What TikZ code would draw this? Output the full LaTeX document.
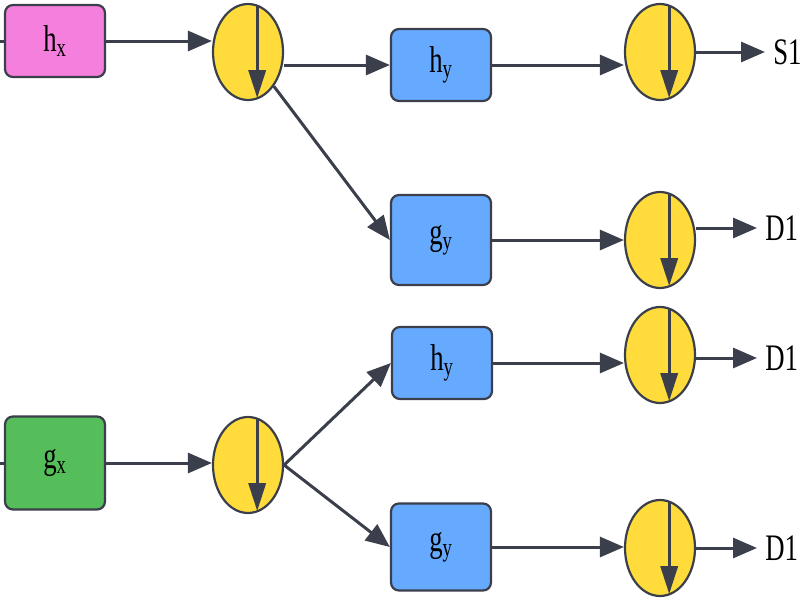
\documentclass[tikz,border=0pt]{standalone}
\usepackage{fontspec}
\setmainfont{Liberation Serif}
\usepackage{graphicx}
\usetikzlibrary{arrows.meta, shapes.geometric, positioning, calc}
\definecolor{boxpink}{HTML}{F57FDC}
\definecolor{boxgreen}{HTML}{55BE5A}
\definecolor{boxblue}{HTML}{66AAFF}
\definecolor{splityellow}{HTML}{FFDC3C}
\definecolor{linegray}{HTML}{3A3F4B}
\newcommand{\lbl}[1]{\scalebox{1}[1.4]{#1}}

\begin{document}
\begin{tikzpicture}[x=0.25mm, y=-0.25mm, >={Triangle[length=6mm,width=5mm]},
    line/.style={draw=linegray, line width=0.75mm},
    box/.style={rectangle, rounded corners=2mm, draw=linegray, line width=0.55mm, minimum width=25mm, inner sep=0pt, font=\fontsize{19}{19}\selectfont},
    split/.style={ellipse, draw=linegray, line width=0.55mm, fill=splityellow, minimum width=17.5mm, minimum height=24mm, inner sep=0pt},
    outlbl/.style={anchor=west, inner sep=2mm, font=\fontsize{19}{19}\selectfont}]
  \useasboundingbox (0,0) rectangle (800,600);

  % input boxes
  \node[box, fill=boxpink, minimum height=18mm] (hx) at (55,41) {\lbl{h\textsubscript{x}}};
  \node[box, fill=boxgreen, minimum height=23.25mm] (gx) at (55,463) {\lbl{g\textsubscript{x}}};
  \coordinate (hin) at (0,41);
  \coordinate (gin) at (0,463);

  % splitters
  \node[split] (e1) at (248,52) {};
  \node[split] (e2) at (660,52) {};
  \node[split] (e3) at (660,240) {};
  \node[split] (e4) at (660,355) {};
  \node[split] (e5) at (248,465) {};
  \node[split] (e6) at (660,548) {};

  % second stage
  \node[box, fill=boxblue, minimum height=18mm] (hy1) at (441,65) {\lbl{h\textsubscript{y}}};
  \node[box, fill=boxblue, minimum height=22.5mm] (gy1) at (441,240) {\lbl{g\textsubscript{y}}};
  \node[box, fill=boxblue, minimum height=18mm] (hy2) at (442,363) {\lbl{h\textsubscript{y}}};
  \node[box, fill=boxblue, minimum height=21.75mm] (gy2) at (441,547) {\lbl{g\textsubscript{y}}};

  % outputs
  \node[outlbl] (s1) at (765,52) {\lbl{S1}};
  \node[outlbl] (d1a) at (757,228) {\lbl{D1}};
  \node[outlbl] (d1b) at (757,358) {\lbl{D1}};
  \node[outlbl] (d1c) at (757,548) {\lbl{D1}};

  \draw[line] (hin) -- (hx.west);
  \draw[line] (gin) -- (gx.west);

  \draw[line, ->] (hx.east |- 0,41) -- (e1.west |- 0,41);
  \draw[line, ->] (e1.east |- hy1.west) -- (hy1.west);
  \draw[line, ->] (e1) -- (gy1.west);
  \draw[line, ->] (hy1.east) -- (hy1.east -| e2.west);
  \draw[line, ->] (gy1.east) -- (e3.west);
  \draw[line, ->] (gx.east) -- (gx.east -| e5.west);
  \draw[line, ->] (e5.east) -- (hy2.west);
  \draw[line, ->] (e5.east) -- (gy2.west);
  \draw[line, ->] (hy2.east) -- (hy2.east -| e4.west);
  \draw[line, ->] (gy2.east -| gy2.east) -- (gy2.east -| e6.west);

  \draw[line, ->] (s1.west -| e2.east) -- (s1.west);
  \draw[line, ->] (d1a.west -| e3.east) -- (d1a.west);
  \draw[line, ->] (d1b.west -| e4.east) -- (d1b.west);
  \draw[line, ->] (d1c.west -| e6.east) -- (d1c.west);

  % split arrows
  \foreach \e in {e1,e2,e3,e4,e5,e6}
    \draw[line, -{Triangle[length=7mm,width=4.3mm]}] ([xshift=2.3mm,yshift=11.5mm]\e.center) -- ([xshift=2.3mm,yshift=-11.5mm]\e.center);
\end{tikzpicture}
\end{document}
